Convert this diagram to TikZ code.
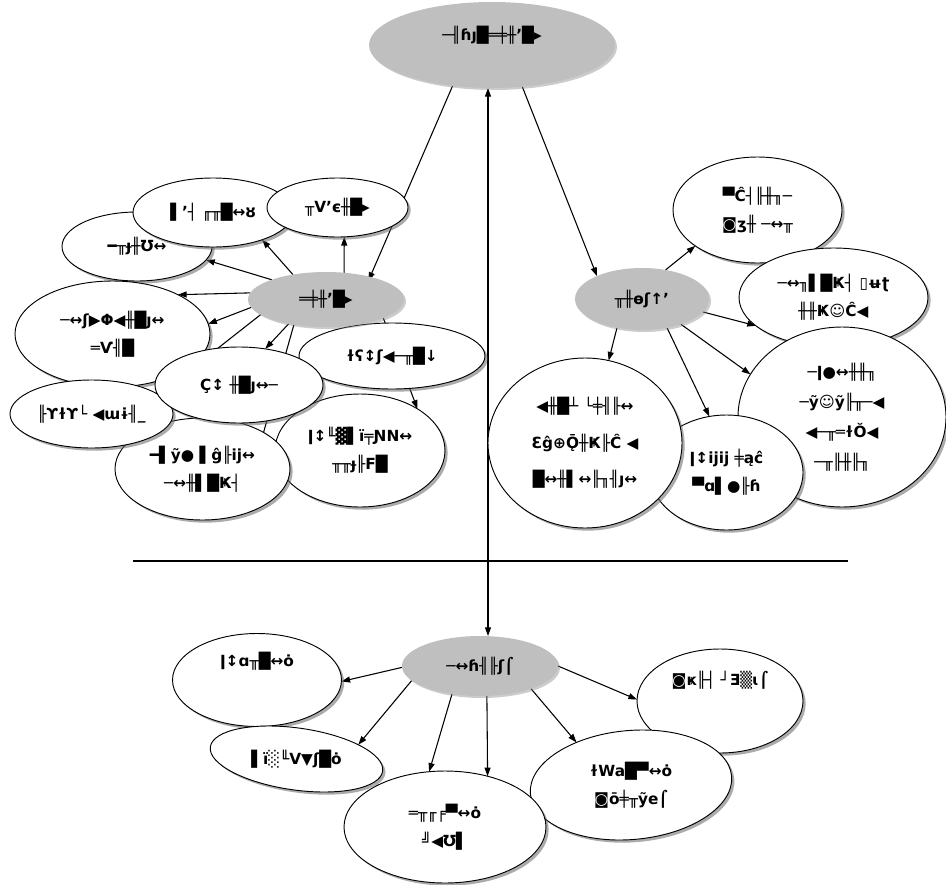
\documentclass[tikz,border=0pt]{standalone}
\usepackage{fontspec}
\newfontfamily\gl{DejaVu Sans}
\usetikzlibrary{shapes.geometric,shadows,arrows.meta,calc}
\pgfdeclarelayer{back}
\pgfdeclarelayer{conn}
\pgfsetlayers{back,conn,main}
\begin{document}
\begin{tikzpicture}[x=0.75pt,y=-0.75pt,
  bub/.style={ellipse,draw=black,line width=0.7pt,fill=white,inner sep=0pt,outer sep=0pt,
    drop shadow={shadow xshift=2pt,shadow yshift=-2pt,fill=black!60,opacity=0.55},
    font=\gl\bfseries\fontsize{11.5}{21}\selectfont,align=center},
  hub/.style={ellipse,fill=gray!50,inner sep=0pt,outer sep=0pt,
    drop shadow={shadow xshift=1.5pt,shadow yshift=-1.5pt,fill=black!50,opacity=0.4},
    font=\gl\bfseries\fontsize{11.5}{21}\selectfont,align=center},
  txt/.style={font=\gl\bfseries\fontsize{11.5}{21}\selectfont,align=center,inner sep=0pt},
  con/.style={line width=0.8pt,-{Triangle[length=6.5pt,width=4.5pt]}},
  sz/.style 2 args={minimum width=#1pt,minimum height=#2pt}]

\begin{pgfonlayer}{back}
\fill[white] (0,0) rectangle (946,885);
\end{pgfonlayer}
\useasboundingbox (0,0) rectangle (946,885);

% ---------- hubs ----------
\node[hub,sz={184.5}{64.5}] (top) at (492,45) {\raisebox{3pt}[0pt][0pt]{─╢ɦȷ█═╪╫ʼ█▸}};

% ---------- left group ----------
\node[bub,sz={112.5}{51.75}] (C) at (137,246.5) {━╥ɟ╫Ʊ↔};
\node[bub,sz={120}{51.75}] (A) at (213,212.5) {▌ʼ┤ ╓╥█↔ȣ};
\node[bub,sz={105.75}{44.25}] (B) at (337.5,207.5) {╥Vʼє╫█▸};
\node[bub,sz={146.25}{79.5}] (D) at (112.5,334) {─↔ʃ▶Φ◀╫█ȷ↔\\═Ѵ╢█};
\node[bub,sz={127.5}{84.75}] (I) at (360,450.5) {ǀ↕╙▓▌ї╤ƝN↔\\╥╥ɟ╟Ϝ█};
\node[bub,sz={139.5}{49.5}] (F) at (392,356) {ɫʕ↕ʃ◀─╥█↓};
\node[bub,sz={131.25}{76.5}] (H) at (202.5,469) {━▌ỹ● ▌ĝ╟ij↔\\─↔╫▌█Ҝ┤};
\node[bub,sz={122.25}{51}] (G) at (91.5,414) {╟ϒɫϒ└ ◀ɯɨ╢\_};
\node[bub,sz={126}{57}] (E) at (239,385) {Ç↕ ╫█ȷ↔─};
\node[hub,sz={117}{41.25}] (lg) at (326,299.5) {═╪╫ʼ█▸};

% ---------- right group ----------
\node[bub,sz={126.75}{79.5}] (R1) at (757.5,210) {▀Ĉ┤╟╫╖─\\◙ʒ╫ ─↔╥};
\node[bub,sz={141.75}{74.25}] (R2) at (833.5,297.5) {─↔╖▌█Ҝ┤ ▯ʉʈ\\╫╫Ҝ☺Ĉ◀};
\node[bub,sz={156}{135},font=\gl\bfseries\fontsize{11.5}{22.5}\selectfont] (R3) at (842,417) {─ǀ●↔╫╫╖\\─ỹ☺ỹ╟╥─◀\\◀─╥═ɫŎ◀\\─╥╟╫╟╖};
\node[bub,sz={114.75}{86.25}] (R4) at (726.5,472.5) {ǀ↕ĳĳ ╪ąĉ\\▀ɑ▌●╟ɦ};
\node[bub,sz={145.5}{127.5},font=\gl\bfseries\fontsize{11.5}{27.5}\selectfont] (R5) at (585,443) {◀╫█┴ └╪╢╟↔\\Ɛĝ⊕Ǭ╫Ҝ╟Ĉ ◀\\█↔╫▌↔╟╖╢ȷ↔};
\node[hub,sz={100.5}{46.5}] (rg) at (642,299) {╥╫ɵʃ↑ʼ};

% ---------- bottom group ----------
\node[bub,sz={126.75}{69.75}] (L1) at (257,680) {\raisebox{10pt}[0pt][0pt]{ǀ↕ɑ╥█↔ȯ}};
\node[bub,sz={130.5}{46.5},rotate=-8] (L2) at (296.5,759) {};
\node[txt] (L2t) at (L2.center) {▌ï░╙V▼ʃ█ȯ};
\node[bub,sz={124.5}{78}] (L5) at (720,701) {\raisebox{12pt}[0pt][0pt]{◙ҝ╟┤ ┘Ǝ▒ɩ⌠}};
\node[bub,sz={151.5}{81.75},rotate=5] (L4) at (631,785) {};
\node[txt] (L4t) at (L4.center) {ɫWa█▀↔ȯ\\◙ō╪╥ỹe⌠};
\node[bub,sz={151.5}{84}] (L3) at (445,827) {═╥╓╒▀↔ȯ\\╝◀Ʊ▌};
\node[hub,sz={117}{45}] (bg) at (480,666) {─↔ɦ╢╟ʃ⌠};

% ---------- connectors ----------
\begin{pgfonlayer}{conn}
\coordinate (hl1) at (133,561);
\coordinate (hl2) at (848,561);
\draw[line width=0.8pt] (hl1) -- (hl2);
\draw[line width=0.8pt,{Triangle[length=6.5pt,width=4.5pt]}-{Triangle[length=6.5pt,width=4.5pt]}]
  ($(top.south)+(-4,0)$) -- ($(bg.north)+(8,0)$);
\draw[con] (top.226) -- ($(lg.27)+(-2,4)$);
\draw[con] (top.306.7) -- (rg.153.9);

\draw[con] (lg.143.1) -- (A.331.5);
\draw[con] (lg.56.8) -- (B.283.4);
\draw[con] (lg.160.4) -- (C.349.8);
\draw[con] (lg.175.6) -- (D.31.3);
\draw[con] (lg.186.3) -- (D.6.6);
\draw[con] (lg.213.7) -- (E.54);
\draw[con] (lg.193.6) -- (G.16);
\draw[con] (lg.218) -- ($(H.center)+(53,-8)$);
\draw[con] (lg.342.5) -- (I.36.9);

\draw[con] (rg.51.1) -- (R1.210.3);
\draw[con] (rg.348) -- (R2.200.6);
\draw[con] (rg.327.7) -- (R3.155.2);
\draw[con] (rg.311.8) -- (R4.107.8);
\draw[con] (rg.229.2) -- (R5.74.5);

\draw[con] (bg.181) -- (L1.359);
\draw[con] (bg.192.7) -- (L2.21.5);
\draw[con] (bg.225) -- (L3.106.6);
\draw[con] (bg.283.1) -- (L3.50.5);
\draw[con] (bg.336.3) -- (L4.137.6);
\draw[con] (bg.0) -- (L5.179);
\end{pgfonlayer}
\end{tikzpicture}
\end{document}
